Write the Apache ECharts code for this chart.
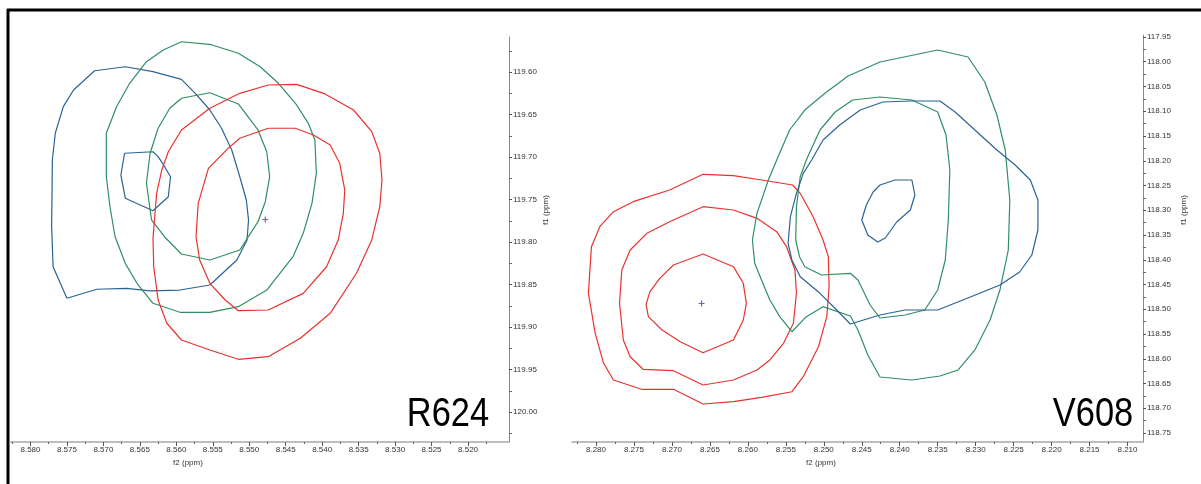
<!DOCTYPE html>
<html>
<head>
<meta charset="utf-8">
<script src="https://cdn.jsdelivr.net/npm/echarts@6/dist/echarts.min.js"></script>
<style>
  html, body { margin: 0; padding: 0; background: #fff; }
  #chart { width: 1201px; height: 484px; }
</style>
</head>
<body>
<div id="chart"></div>
<script>
// ---- R624 panel: tick labels (ppm) ----
const r624F2Ticks = [8.580, 8.575, 8.570, 8.565, 8.560, 8.555, 8.550, 8.545, 8.540, 8.535, 8.530, 8.525, 8.520];
const r624F1Ticks = [119.60, 119.65, 119.70, 119.75, 119.80, 119.85, 119.90, 119.95, 120.00];

// ---- R624 contours, [f2, f1] in ppm ----
const r624BlueOuter = [[8.5750,119.8662],[8.5769,119.8291],[8.5771,119.7820],[8.5770,119.7035],[8.5766,119.6721],[8.5755,119.6408],[8.5741,119.6212],[8.5712,119.5985],[8.5670,119.5938],[8.5632,119.5996],[8.5593,119.6086],[8.5574,119.6251],[8.5554,119.6447],[8.5538,119.6662],[8.5524,119.6918],[8.5513,119.7232],[8.5504,119.7506],[8.5501,119.7741],[8.5503,119.7976],[8.5517,119.8212],[8.5554,119.8506],[8.5595,119.8565],[8.5636,119.8576],[8.5668,119.8545],[8.5709,119.8556]];
const r624BlueInner = [[8.5671,119.6956],[8.5632,119.6938],[8.5625,119.6996],[8.5616,119.7114],[8.5608,119.7232],[8.5611,119.7467],[8.5632,119.7632],[8.5670,119.7486],[8.5676,119.7212]];
const r624GreenOuter = [[8.5593,119.5644],[8.5552,119.5679],[8.5515,119.5780],[8.5485,119.5938],[8.5460,119.6133],[8.5435,119.6388],[8.5419,119.6604],[8.5410,119.6800],[8.5408,119.7192],[8.5414,119.7545],[8.5426,119.7898],[8.5440,119.8173],[8.5476,119.8565],[8.5515,119.8761],[8.5554,119.8827],[8.5595,119.8827],[8.5632,119.8721],[8.5654,119.8486],[8.5670,119.8251],[8.5684,119.7938],[8.5691,119.7585],[8.5696,119.7232],[8.5696,119.6721],[8.5682,119.6408],[8.5664,119.6133],[8.5641,119.5879],[8.5618,119.5741]];
const r624GreenInner = [[8.5593,119.6309],[8.5554,119.6244],[8.5515,119.6376],[8.5488,119.6682],[8.5476,119.6938],[8.5472,119.7232],[8.5478,119.7526],[8.5488,119.7761],[8.5513,119.8094],[8.5554,119.8212],[8.5593,119.8141],[8.5616,119.7941],[8.5634,119.7741],[8.5641,119.7306],[8.5636,119.6956],[8.5625,119.6662],[8.5609,119.6427]];
const r624RedOuter = [[8.5474,119.6153],[8.5435,119.6145],[8.5398,119.6251],[8.5357,119.6447],[8.5332,119.6702],[8.5321,119.6956],[8.5318,119.7271],[8.5321,119.7585],[8.5332,119.7976],[8.5353,119.8368],[8.5389,119.8839],[8.5430,119.9133],[8.5474,119.9349],[8.5515,119.9380],[8.5554,119.9271],[8.5593,119.9153],[8.5613,119.8956],[8.5625,119.8682],[8.5631,119.8291],[8.5632,119.7956],[8.5627,119.7427],[8.5620,119.7153],[8.5611,119.6938],[8.5593,119.6682],[8.5554,119.6427],[8.5513,119.6251]];
const r624RedInner = [[8.5474,119.6662],[8.5437,119.6662],[8.5412,119.6741],[8.5389,119.6859],[8.5376,119.7074],[8.5369,119.7388],[8.5371,119.7662],[8.5378,119.7976],[8.5394,119.8291],[8.5426,119.8604],[8.5474,119.8800],[8.5515,119.8808],[8.5533,119.8682],[8.5554,119.8486],[8.5568,119.8212],[8.5573,119.7938],[8.5570,119.7545],[8.5556,119.7133],[8.5529,119.6898],[8.5513,119.6780]];
const r624Peak = [[8.5478, 119.7735]];

// ---- V608 panel: tick labels (ppm) ----
const v608F2Ticks = [8.280, 8.275, 8.270, 8.265, 8.260, 8.255, 8.250, 8.245, 8.240, 8.235, 8.230, 8.225, 8.220, 8.215, 8.210];
const v608F1Ticks = [117.95, 118.00, 118.05, 118.10, 118.15, 118.20, 118.25, 118.30, 118.35, 118.40, 118.45, 118.50, 118.55, 118.60, 118.65, 118.70, 118.75];

// ---- V608 contours, [f2, f1] in ppm ----
const v608RedOuter = [[8.2659,118.2274],[8.2619,118.2302],[8.2582,118.2389],[8.2541,118.2490],[8.2531,118.2658],[8.2514,118.3130],[8.2501,118.3601],[8.2494,118.3938],[8.2493,118.4544],[8.2496,118.5150],[8.2507,118.5757],[8.2527,118.6363],[8.2542,118.6666],[8.2582,118.6779],[8.2619,118.6868],[8.2659,118.6914],[8.2698,118.6617],[8.2740,118.6617],[8.2777,118.6429],[8.2790,118.6092],[8.2801,118.5486],[8.2810,118.4678],[8.2806,118.3736],[8.2795,118.3332],[8.2777,118.3029],[8.2751,118.2827],[8.2703,118.2591]];
const v608RedMiddle = [[8.2659,118.2928],[8.2619,118.2995],[8.2588,118.3163],[8.2562,118.3433],[8.2549,118.3736],[8.2538,118.4207],[8.2536,118.4678],[8.2540,118.5284],[8.2553,118.5688],[8.2571,118.6025],[8.2588,118.6227],[8.2619,118.6429],[8.2659,118.6530],[8.2698,118.6241],[8.2738,118.6213],[8.2755,118.5959],[8.2764,118.5621],[8.2769,118.4880],[8.2766,118.4207],[8.2755,118.3803],[8.2733,118.3466],[8.2703,118.3231]];
const v608RedInner = [[8.2659,118.3884],[8.2619,118.4140],[8.2606,118.4476],[8.2602,118.4880],[8.2606,118.5217],[8.2619,118.5621],[8.2659,118.5878],[8.2689,118.5656],[8.2713,118.5419],[8.2731,118.5150],[8.2734,118.4900],[8.2729,118.4645],[8.2716,118.4375],[8.2698,118.4106]];
const v608GreenOuter = [[8.2350,117.9763],[8.2310,117.9904],[8.2288,118.0409],[8.2272,118.1076],[8.2261,118.1783],[8.2255,118.2793],[8.2257,118.3803],[8.2268,118.4611],[8.2281,118.5217],[8.2301,118.5823],[8.2323,118.6227],[8.2347,118.6348],[8.2384,118.6429],[8.2426,118.6369],[8.2442,118.5924],[8.2455,118.5419],[8.2465,118.5136],[8.2501,118.4948],[8.2523,118.5150],[8.2542,118.5454],[8.2558,118.5150],[8.2571,118.4813],[8.2582,118.4409],[8.2591,118.4072],[8.2594,118.3601],[8.2588,118.3062],[8.2573,118.2389],[8.2562,118.1985],[8.2545,118.1379],[8.2525,118.0975],[8.2498,118.0631],[8.2468,118.0288],[8.2426,118.0005]];
const v608GreenInner = [[8.2462,118.0773],[8.2426,118.0712],[8.2384,118.0773],[8.2350,118.1015],[8.2339,118.1480],[8.2334,118.2187],[8.2336,118.3197],[8.2340,118.4005],[8.2350,118.4611],[8.2367,118.5015],[8.2393,118.5116],[8.2426,118.5177],[8.2439,118.4914],[8.2455,118.4409],[8.2465,118.4274],[8.2503,118.4308],[8.2525,118.4140],[8.2532,118.3938],[8.2537,118.3601],[8.2536,118.2928],[8.2531,118.2322],[8.2523,118.1985],[8.2505,118.1379],[8.2485,118.1015]];
const v608BlueOuter = [[8.2422,118.0813],[8.2386,118.0793],[8.2347,118.0793],[8.2327,118.1015],[8.2301,118.1379],[8.2272,118.1783],[8.2248,118.2086],[8.2228,118.2389],[8.2218,118.2793],[8.2218,118.3399],[8.2226,118.3904],[8.2242,118.4247],[8.2268,118.4510],[8.2307,118.4753],[8.2350,118.5015],[8.2393,118.5015],[8.2426,118.5116],[8.2465,118.5298],[8.2483,118.5015],[8.2505,118.4678],[8.2531,118.4342],[8.2542,118.4005],[8.2547,118.3668],[8.2544,118.3130],[8.2536,118.2658],[8.2527,118.2254],[8.2516,118.1985],[8.2501,118.1581],[8.2479,118.1278],[8.2452,118.0975]];
const v608BlueInner = [[8.2426,118.2490],[8.2406,118.2389],[8.2384,118.2389],[8.2380,118.2692],[8.2386,118.2995],[8.2404,118.3237],[8.2419,118.3561],[8.2429,118.3641],[8.2442,118.3500],[8.2450,118.3197],[8.2444,118.2894],[8.2435,118.2631]];
const v608Peak = [[8.2661, 118.4884]];

// ---- styling ----
const BLUE = '#2b6394';
const GREEN = '#2f8f62';
const RED = '#e8322f';
const PEAK = '#4b3c9c';
const FONT = 'Liberation Sans';

// minor ticks sit halfway between the labelled ones, plus one step past each end
function minorTicks(major, lo, hi) {
  const step = major[1] - major[0];
  const out = [];
  for (let i = -1; i < major.length; i++) {
    const v = major[0] + step * (i + 0.5);
    if (v >= Math.min(lo, hi) && v <= Math.max(lo, hi)) out.push(+v.toFixed(4));
  }
  return out;
}

function xAxes(grid, min, max, ticks) {
  const base = {
    type: 'value', gridIndex: grid, min: min, max: max, inverse: true, position: 'bottom',
    splitLine: { show: false }
  };
  return [
    Object.assign({}, base, {
      axisLine: { show: true, lineStyle: { color: '#a8a8a8', width: 1.5 } },
      axisTick: { show: true, customValues: ticks, length: 4, lineStyle: { color: '#555', width: 1 } },
      axisLabel: { show: true, customValues: ticks, formatter: v => v.toFixed(3),
        fontSize: 8, fontFamily: FONT, color: '#333', margin: 4 }
    }),
    Object.assign({}, base, {
      axisLine: { show: false },
      axisTick: { show: true, customValues: minorTicks(ticks, min, max), length: 2, lineStyle: { color: '#666', width: 1 } },
      axisLabel: { show: false }
    })
  ];
}

function yAxes(grid, min, max, ticks) {
  const base = {
    type: 'value', gridIndex: grid, min: min, max: max, inverse: true, position: 'right',
    splitLine: { show: false }
  };
  return [
    Object.assign({}, base, {
      axisLine: { show: true, lineStyle: { color: '#8a8a8a', width: 1 } },
      axisTick: { show: true, customValues: ticks, length: 3, lineStyle: { color: '#555', width: 1 } },
      axisLabel: { show: true, customValues: ticks, formatter: v => v.toFixed(2),
        fontSize: 8, fontFamily: FONT, color: '#333', margin: 4 }
    }),
    Object.assign({}, base, {
      axisLine: { show: false },
      axisTick: { show: true, customValues: minorTicks(ticks, min, max), length: 3, lineStyle: { color: '#666', width: 1 } },
      axisLabel: { show: false }
    })
  ];
}

function contour(points, color, axis) {
  return {
    type: 'line', xAxisIndex: axis, yAxisIndex: axis,
    data: points.concat([points[0]]),
    showSymbol: false, symbol: 'none', smooth: false, silent: true,
    lineStyle: { color: color, width: 1.2 },
    z: 3
  };
}

function peak(points, axis) {
  return {
    type: 'scatter', xAxisIndex: axis, yAxisIndex: axis, data: points,
    symbol: 'path://M4,0h2v4h4v2h-4v4h-2v-4h-4v-2h4z', symbolSize: 6,
    itemStyle: { color: PEAK }, silent: true, z: 4
  };
}

const chart = echarts.init(document.getElementById('chart'), null, { renderer: 'canvas' });
chart.setOption({
  animation: false,
  backgroundColor: '#ffffff',
  grid: [
    { left: 10, top: 37, width: 499, height: 405 },
    { left: 572, top: 35, width: 571, height: 407 }
  ],
  xAxis: [].concat(
    xAxes(0, 8.51438, 8.58281, r624F2Ticks),
    xAxes(1, 8.20796, 8.28316, v608F2Ticks)
  ),
  yAxis: [].concat(
    yAxes(0, 119.55882, 120.03529, r624F1Ticks),
    yAxes(1, 117.94596, 118.76818, v608F1Ticks)
  ),
  series: [
    contour(r624BlueOuter, BLUE, 0),
    contour(r624BlueInner, BLUE, 0),
    contour(r624GreenOuter, GREEN, 0),
    contour(r624GreenInner, GREEN, 0),
    contour(r624RedOuter, RED, 0),
    contour(r624RedInner, RED, 0),
    peak(r624Peak, 0),
    contour(v608RedOuter, RED, 2),
    contour(v608RedMiddle, RED, 2),
    contour(v608RedInner, RED, 2),
    contour(v608GreenOuter, GREEN, 2),
    contour(v608GreenInner, GREEN, 2),
    contour(v608BlueOuter, BLUE, 2),
    contour(v608BlueInner, BLUE, 2),
    peak(v608Peak, 2)
  ],
  graphic: [
    // figure frame (top and left edges)
    { type: 'line', shape: { x1: 7, y1: 10, x2: 1201, y2: 10 }, style: { stroke: '#000', lineWidth: 3 }, silent: true },
    { type: 'line', shape: { x1: 8, y1: 9, x2: 8, y2: 484 }, style: { stroke: '#000', lineWidth: 3 }, silent: true },
    // axis titles
    { type: 'text', x: 188, y: 463, style: { text: 'f2 (ppm)', fontSize: 8, fontFamily: FONT, fill: '#333', align: 'center', verticalAlign: 'middle' }, silent: true },
    { type: 'text', x: 821, y: 463, style: { text: 'f2 (ppm)', fontSize: 8, fontFamily: FONT, fill: '#333', align: 'center', verticalAlign: 'middle' }, silent: true },
    { type: 'text', x: 546, y: 210, rotation: Math.PI / 2, style: { text: 'f1 (ppm)', fontSize: 8, fontFamily: FONT, fill: '#333', align: 'center', verticalAlign: 'middle' }, silent: true },
    { type: 'text', x: 1184, y: 210, rotation: Math.PI / 2, style: { text: 'f1 (ppm)', fontSize: 8, fontFamily: FONT, fill: '#333', align: 'center', verticalAlign: 'middle' }, silent: true },
    // residue labels
    { type: 'text', x: 448, y: 415, scaleX: 0.84, style: { text: 'R624', fontSize: 41, fontFamily: FONT, fill: '#000', align: 'center', verticalAlign: 'middle' }, silent: true },
    { type: 'text', x: 1093, y: 415, scaleX: 0.84, style: { text: 'V608', fontSize: 41, fontFamily: FONT, fill: '#000', align: 'center', verticalAlign: 'middle' }, silent: true }
  ]
});
</script>
</body>
</html>
